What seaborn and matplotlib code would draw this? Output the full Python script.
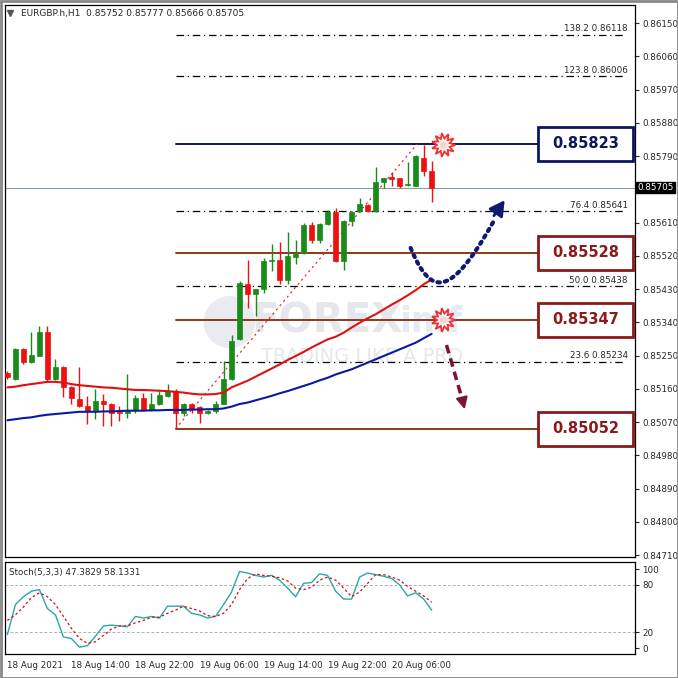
import numpy as np
import pandas as pd
import seaborn as sns
import matplotlib
matplotlib.use("Agg")
import matplotlib.pyplot as plt
from matplotlib.patches import Rectangle, Polygon, Ellipse

sns.set_style("white")
plt.rcParams['font.family'] = ['DejaVu Sans']

# ---------------- data ----------------
opens  = [85204,85186,85268,85233,85249,85313,85186,85218,85164,85133,85115,85101,85128,85119,85098,85096,85103,85134,85103,85119,85141,85154,85096,85119,85110,85094,85101,85120,85186,85294,85443,85417,85429,85507,85510,85456,85517,85528,85604,85562,85606,85638,85506,85615,85641,85659,85641,85720,85733,85731,85712,85710,85785,85750]
highs  = [85209,85272,85270,85313,85329,85329,85240,85223,85167,85218,85141,85159,85146,85123,85114,85200,85143,85150,85150,85154,85172,85159,85123,85121,85114,85103,85127,85235,85307,85452,85510,85431,85514,85553,85557,85584,85564,85609,85611,85609,85645,85649,85618,85641,85677,85660,85760,85732,85746,85732,85775,85794,85820,85776]
lows   = [85186,85185,85227,85231,85248,85182,85185,85137,85119,85110,85065,85078,85060,85060,85074,85082,85096,85101,85101,85117,85139,85052,85087,85096,85069,85092,85096,85119,85185,85292,85380,85357,85420,85479,85443,85443,85497,85526,85555,85555,85604,85504,85483,85600,85639,85639,85639,85704,85708,85704,85708,85708,85735,85665]
closes = [85191,85268,85233,85251,85313,85186,85218,85164,85134,85115,85101,85128,85119,85096,85094,85103,85134,85103,85119,85143,85154,85096,85119,85105,85094,85101,85120,85186,85289,85447,85417,85429,85507,85510,85454,85519,85524,85604,85564,85606,85638,85506,85615,85638,85660,85641,85720,85731,85728,85710,85714,85789,85749,85705]
ma_red  = [85164,85166,85170,85173,85176,85179,85179,85177,85173,85170,85168,85166,85164,85163,85161,85159,85157,85157,85156,85155,85154,85152,85150,85147,85145,85145,85146,85150,85164,85173,85182,85193,85204,85215,85226,85238,85249,85260,85272,85283,85294,85301,85312,85326,85339,85351,85362,85375,85388,85400,85413,85427,85443,85456]
ma_blue = [85075,85078,85081,85083,85087,85090,85092,85094,85096,85098,85098,85098,85099,85099,85100,85101,85101,85101,85102,85102,85103,85103,85103,85104,85104,85105,85105,85107,85112,85119,85123,85129,85135,85141,85148,85154,85161,85168,85175,85183,85190,85199,85206,85213,85222,85231,85240,85249,85258,85267,85276,85285,85297,85309]
stoch_main = [17,55,65,72,74,50,42,14,12,1,3,15,28,29,28,27,40,38,40,38,53,53,53,44,42,38,40,55,71,97,95,92,90,92,86,76,65,82,83,94,92,72,62,62,90,95,93,91,88,80,66,70,62,48]
stoch_sig  = [35,42,52,64,70,65,55,40,25,12,6,8,16,24,28,28,32,35,39,39,44,48,53,50,47,41,40,44,55,74,88,94,92,91,89,85,76,74,77,86,90,86,76,65,71,82,93,93,90,86,78,72,66,58]
date_labels = ["18 Aug 2021","18 Aug 14:00","18 Aug 22:00","19 Aug 06:00","19 Aug 14:00","19 Aug 22:00","20 Aug 06:00"]
price_ticks = [0.86150,0.86060,0.85970,0.85880,0.85790,0.85610,0.85520,0.85430,0.85340,0.85250,0.85160,0.85070,0.84980,0.84890,0.84800,0.84710]
fib_levels = [138.2,123.8,76.4,50.0,23.6]
fib_prices = [0.86118,0.86006,0.85641,0.85438,0.85234]
sr_levels = [0.85528,0.85347,0.85052]
top_level = 0.85823
cur_price = 0.85705

df = pd.DataFrame({"i": np.arange(len(opens)),
                   "o": np.array(opens)/1e5, "h": np.array(highs)/1e5,
                   "l": np.array(lows)/1e5, "c": np.array(closes)/1e5,
                   "mr": np.array(ma_red)/1e5, "mb": np.array(ma_blue)/1e5,
                   "sm": stoch_main, "ss": stoch_sig})

W = H = 678
fig = plt.figure(figsize=(6.78, 6.78), dpi=100)
fig.patch.set_facecolor("white")
def px(l, t, r, b):
    return [l/W, 1-b/H, (r-l)/W, (b-t)/H]

ax = fig.add_axes(px(5, 5, 635, 557))
ax2 = fig.add_axes(px(5, 562, 635, 654))
XMAX = 78.4
PPX = 8.04
def xi(p):
    return (p-5)/PPX

ymin, ymax = 0.84705, 0.86199
ax.set_xlim(-0.3, XMAX); ax.set_ylim(ymin, ymax)
ppy = (557-5)/(ymax-ymin)
def P(x, y):
    return (xi(x), ymax - (y-5)/ppy)

# watermark
ax.add_patch(Ellipse(P(228, 322), 52/PPX, 52/ppy, facecolor="#d6d8e2", edgecolor="none", alpha=0.5, zorder=0.4))
ax.text(xi(250), P(0, 322)[1], "FOREX", fontsize=29, fontweight="bold", color="#c9cbd6", alpha=0.45,
        ha="left", va="center", zorder=0.5)
ax.text(xi(398), P(0, 322)[1], "imf", fontsize=25, fontweight="bold", color="#c6d2ec", alpha=0.45,
        ha="left", va="center", zorder=0.5)
ax.text(xi(260), P(0, 357)[1], "TRADING LIKE A PRO", fontsize=14, color="#cfd1da", alpha=0.5,
        ha="left", va="center", zorder=0.5)

ax.axhline(cur_price, color="#8a9aa8", lw=0.8, zorder=1)

for r in df.itertuples():
    col = "#1a8a1a" if r.c >= r.o else "#ee1111"
    ax.vlines(r.i, r.l, r.h, color=col, lw=1, zorder=3)
    ax.add_patch(Rectangle((r.i-0.32, min(r.o, r.c)), 0.64, max(abs(r.c-r.o), 0.000012),
                           facecolor=col, edgecolor=col, lw=0.5, zorder=4))

sns.lineplot(data=df, x="i", y="mr", ax=ax, color="#e01010", lw=1.5, zorder=5)
sns.lineplot(data=df, x="i", y="mb", ax=ax, color="#0a1aa0", lw=1.5, zorder=5)

x0 = 21
for lv, pr in zip(fib_levels, fib_prices):
    ax.plot([x0, xi(625)], [pr, pr], color="black", lw=0.9, ls=(0, (6, 3, 1, 3)), zorder=2)
    ax.text(xi(628), pr+0.00004, f"{lv:.1f} {pr:.5f}", fontsize=6.3, ha="right", va="bottom")
for lv in sr_levels:
    ax.plot([x0, XMAX], [lv, lv], color="#8b3a1a", lw=1.4, zorder=2)
ax.plot([x0, XMAX], [top_level, top_level], color="#0d1560", lw=1.4, zorder=2)
ax.plot([x0, 51.2], [sr_levels[2], top_level], color="#dd2020", lw=0.8, ls=(0, (2, 3)), zorder=2)

for lv, col in [(top_level, "#0d1560")] + [(l, "#8b1a1a") for l in sr_levels]:
    ax.add_patch(Rectangle((xi(538), lv-0.00046), xi(633)-xi(538), 0.00092,
                           facecolor="white", edgecolor=col, lw=2, zorder=7))
    ax.text((xi(538)+xi(633))/2, lv, f"{lv:.5f}", color=col, fontsize=10.5,
            fontweight="bold", ha="center", va="center", zorder=8)

for (cx, cy) in [(443, 145), (443, 320)]:
    n = 11
    ang = np.linspace(0, 2*np.pi, 2*n, endpoint=False)
    rad = np.where(np.arange(2*n) % 2 == 0, 12, 6.5)
    ax.add_patch(Polygon([P(cx + r*np.cos(a), cy + r*np.sin(a)) for r, a in zip(rad, ang)],
                         closed=True, facecolor="white", edgecolor="#ee3030", lw=1.3, zorder=9))
    ax.add_patch(Polygon([P(cx + 0.45*r*np.cos(a), cy + 0.45*r*np.sin(a)) for r, a in zip(rad, ang)],
                         closed=True, facecolor="#ffd0d0", edgecolor="none", zorder=9))

t = np.linspace(0, 1, 40)
bx = [410, 432, 452, 505]; by = [248, 300, 300, 200]
cxs = (1-t)**3*bx[0]+3*(1-t)**2*t*bx[1]+3*(1-t)*t**2*bx[2]+t**3*bx[3]
cys = (1-t)**3*by[0]+3*(1-t)**2*t*by[1]+3*(1-t)*t**2*by[2]+t**3*by[3]
pp = [P(a, b) for a, b in zip(cxs, cys)]
ax.plot([p[0] for p in pp[:-3]], [p[1] for p in pp[:-3]], color="#101870", lw=3, ls=(0, (0.6, 1.2)),
        dash_capstyle="round", zorder=8)
ax.annotate("", xy=P(506, 198), xytext=P(492, 218),
            arrowprops=dict(arrowstyle="-|>,head_length=0.9,head_width=0.5", color="#101870", lw=2), zorder=8)
ax.plot([xi(446), xi(462)], [P(0, 345)[1], P(0, 400)[1]], color="#7a1530", lw=2.5, ls=(0, (2.5, 1.5)), zorder=8)
ax.annotate("", xy=P(465, 412), xytext=P(461, 396),
            arrowprops=dict(arrowstyle="-|>,head_length=0.7,head_width=0.35", color="#7a1530", lw=1.5), zorder=8)

ax.text(0.025, 0.993, "EURGBP.h,H1  0.85752 0.85777 0.85666 0.85705", transform=ax.transAxes,
        fontsize=6.5, va="top", ha="left")
ax.plot([0.008], [0.985], marker="v", color="#555", ms=4, transform=ax.transAxes)

for a in (ax, ax2):
    for s in a.spines.values():
        s.set_color("black"); s.set_linewidth(0.9)
    a.yaxis.tick_right()
    a.tick_params(axis="y", labelsize=6.3, length=3, pad=2, direction="out")
ax.set_xticks([]); ax.set_xlabel(""); ax.set_ylabel("")
ax.set_yticks(price_ticks)
ax.set_yticklabels([f"{p:.5f}" for p in price_ticks])
ax.text(1.003, cur_price, f"{cur_price:.5f}", transform=ax.get_yaxis_transform(), fontsize=6.3,
        color="white", va="center", ha="left",
        bbox=dict(boxstyle="square,pad=0.15", facecolor="black", edgecolor="black"), clip_on=False)

ax2.set_xlim(-0.3, XMAX); ax2.set_ylim(-7.6, 109)
ax2.axhline(80, color="#b0b0b0", lw=0.7, ls=(0, (3, 2)))
ax2.axhline(20, color="#b0b0b0", lw=0.7, ls=(0, (3, 2)))
sns.lineplot(data=df, x="i", y="sm", ax=ax2, color="#2aa8a8", lw=1)
sns.lineplot(data=df, x="i", y="ss", ax=ax2, color="#cc1111", lw=0.9, ls=(0, (2, 2)))
ax2.set_yticks([100, 80, 20, 0]); ax2.set_yticklabels(["100", "80", "20", "0"])
ax2.set_xticks(np.arange(0, 8*len(date_labels), 8))
ax2.set_xticklabels(date_labels, ha="left")
ax2.tick_params(axis="x", labelsize=6.3, length=3, pad=2)
ax2.set_xlabel(""); ax2.set_ylabel("")
ax2.text(0.006, 0.93, "Stoch(5,3,3) 47.3829 58.1331", transform=ax2.transAxes, fontsize=6.3, va="top")

fig.add_artist(Rectangle((0.5/W, 0.5/H), 1-1/W, 1-1/H, transform=fig.transFigure,
                         fill=False, edgecolor="#888", lw=2))
fig.savefig("out.png", dpi=100)
